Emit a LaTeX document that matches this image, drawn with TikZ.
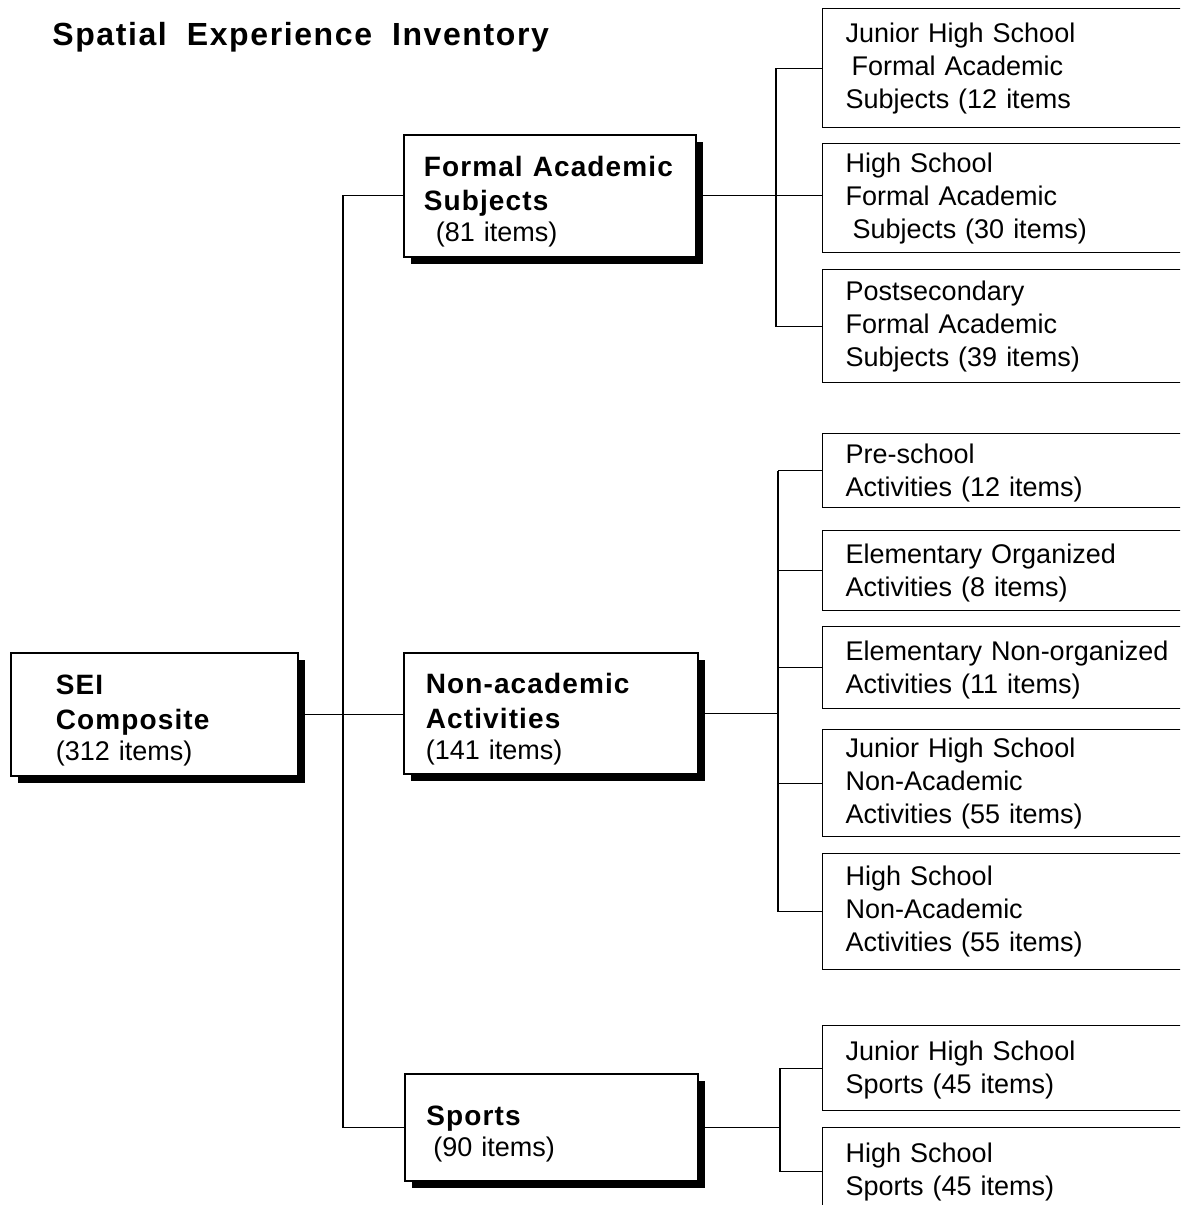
\documentclass[tikz,border=0pt]{standalone}
\usepackage{fontspec}
\setmainfont{Liberation Sans}
\newfontfamily\spacedbf{Liberation Sans}[LetterSpace=4]
\newfontfamily\titlebf{Liberation Sans}[LetterSpace=5]
\newcommand\boxhead[1]{{\spacedbf\bfseries\fontsize{14}{15.5}\selectfont\rule{0pt}{16pt}#1}}
\usetikzlibrary{shadows}

\tikzset{
	mainbox/.style={draw, fill=white, line width=0.8pt, anchor=north west, align=left,
		inner ysep=0pt, font=\fontsize{13.5}{15.5}\selectfont,
		drop shadow={shadow xshift=3.5pt, shadow yshift=-3.5pt, fill=black, opacity=1}},
	leafbox/.style={draw, line width=0.7pt, anchor=north west, align=left,
		inner xsep=11.5pt, inner ysep=0pt, text width=177pt,
		font=\fontsize{13.5}{16.5}\selectfont},
	link/.style={line width=0.55pt}
}

\begin{document}
\begin{tikzpicture}[x=0.5pt, y=-0.5pt]
	\path[use as bounding box, clip] (0,0) rectangle (1180,1205);

	\node[anchor=base west, inner sep=0pt] (title) at (52,45)
		{\titlebf\bfseries\fontsize{16}{18}\selectfont Spatial\hspace{10pt}Experience\hspace{10pt}Inventory};

	% main boxes
	\node[mainbox, minimum height=61.5pt, text width=98.5pt, inner xsep=22.5pt] (sei) at (10,652)
		{\boxhead{SEI}\\\boxhead{Composite}\\(312 items)};
	\node[mainbox, minimum height=61pt, text width=126pt, inner xsep=10pt] (fas) at (403,134)
		{\boxhead{\mbox{Formal\hspace{5pt}Academic}}\\\boxhead{Subjects}\\\hspace*{6pt}(81 items)};
	\node[mainbox, minimum height=60.5pt, text width=125pt, inner xsep=11pt] (na) at (403,652)
		{\boxhead{Non-academic}\\\boxhead{Activities}\\(141 items)};
	\node[mainbox, minimum height=53.5pt, text width=125pt, inner xsep=10.75pt] (sports) at (404,1073)
		{\boxhead{Sports}\\\hspace*{3.5pt}(90 items)};

	% formal academic subjects
	\node[leafbox, minimum height=59.5pt] (jhsf) at (822,8)
		{Junior High School\\\hspace*{3pt}Formal Academic\\Subjects (12 items};
	\node[leafbox, minimum height=54.5pt] (hsf) at (822,143)
		{High School\\Formal Academic\\\hspace*{3.5pt}Subjects (30 items)};
	\node[leafbox, minimum height=56.5pt] (ps) at (822,269)
		{Postsecondary\\Formal Academic\\Subjects (39 items)};

	% non-academic activities
	\node[leafbox, minimum height=37pt] (pre) at (822,433)
		{\rule{0pt}{12pt}Pre-school\\Activities (12 items)};
	\node[leafbox, minimum height=40pt] (eo) at (822,530)
		{\rule{0pt}{12pt}Elementary Organized\\Activities (8 items)};
	\node[leafbox, minimum height=41pt] (eno) at (822,626)
		{\rule{0pt}{12pt}Elementary Non-organized\\Activities (11 items)};
	\node[leafbox, minimum height=53.5pt] (jhsna) at (822,729)
		{Junior High School\\Non-Academic\\Activities (55 items)};
	\node[leafbox, minimum height=58pt] (hsna) at (822,853)
		{High School\\Non-Academic\\Activities (55 items)};

	% sports
	\node[leafbox, minimum height=42.5pt] (jhss) at (822,1025)
		{\rule{0pt}{12pt}Junior High School\\Sports (45 items)};
	\node[leafbox, minimum height=44pt] (hss) at (822,1127)
		{High School\\Sports (45 items)};

	% links
	\coordinate (t1) at (343,0);
	\coordinate (t2) at (776,0);
	\coordinate (t3) at (778,0);
	\coordinate (t4) at (780,0);

	\draw[link] (sei.east) -- (sei.east -| na.west);
	\draw[link] (fas.west) -- (fas.west -| t1) -- (sports.west -| t1) -- (sports.west);

	\draw[link] (fas.east) -- (fas.east -| hsf.west);
	\draw[link] (jhsf.west) -- (jhsf.west -| t2) -- (ps.west -| t2) -- (ps.west);

	\draw[link] (na.east) -- (na.east -| t3);
	\draw[link] (pre.west -| t3) -- (hsna.west -| t3);
	\foreach \n in {pre,eo,eno,jhsna,hsna}
		\draw[link] (\n.west) -- (\n.west -| t3);

	\draw[link] (sports.east) -- (sports.east -| t4);
	\draw[link] (jhss.west) -- (jhss.west -| t4) -- (hss.west -| t4) -- (hss.west);
\end{tikzpicture}
\end{document}
